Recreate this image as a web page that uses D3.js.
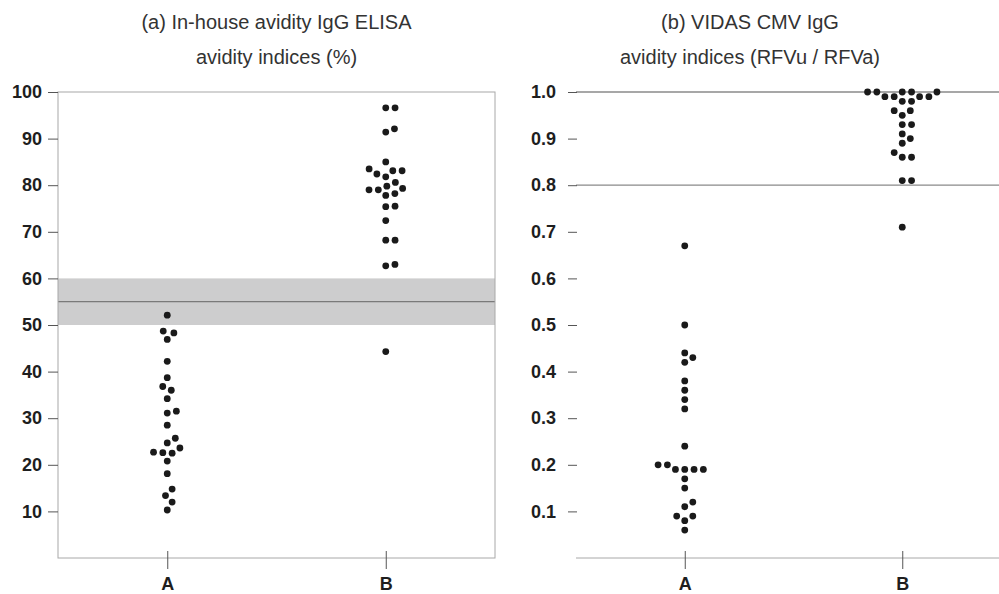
<!DOCTYPE html>
<html>
<head>
<meta charset="utf-8">
<script src="https://cdn.jsdelivr.net/npm/d3@7"></script>
<style>
  body { margin: 0; background: #fff; }
  svg { display: block; font-family: "Liberation Sans", Arial, sans-serif; }
</style>
</head>
<body>
<div id="chart"></div>
<script>
// groups on the x axis
const groups = ["A", "B"];

// (a) in-house avidity IgG ELISA, avidity index %
const elisaA = [52.1, 48.7, 48.3, 46.9, 42.2, 38.7, 36.8, 36.0, 34.2, 31.5, 31.1, 28.5, 25.7, 24.7, 23.6, 22.6, 22.7, 22.5, 20.8, 18.1, 14.8, 13.4, 12.0, 10.3];
const elisaB = [96.6, 96.6, 92.1, 91.4, 85.0, 83.1, 83.5, 83.1, 82.4, 81.8, 80.6, 79.8, 79.0, 79.0, 79.3, 78.2, 77.8, 75.4, 75.5, 72.4, 68.2, 68.2, 63.0, 62.7, 44.3];
const elisaTicks = [10, 20, 30, 40, 50, 60, 70, 80, 90, 100];
const elisaBand = [50, 60];
const elisaCut = 55;

// (b) VIDAS CMV IgG, avidity index RFVu / RFVa
const vidasA = [0.06, 0.08, 0.09, 0.09, 0.11, 0.12, 0.15, 0.17, 0.19, 0.19, 0.19, 0.19, 0.20, 0.20, 0.24, 0.32, 0.34, 0.36, 0.38, 0.42, 0.43, 0.44, 0.50, 0.67];
const vidasB = [0.71, 0.81, 0.81, 0.86, 0.86, 0.87, 0.89, 0.90, 0.91, 0.93, 0.93, 0.95, 0.96, 0.96, 0.98, 0.98, 0.99, 0.99, 0.99, 0.99, 1.00, 1.00, 1.00, 1.00, 1.00];
const vidasTicks = [0.1, 0.2, 0.3, 0.4, 0.5, 0.6, 0.7, 0.8, 0.9, 1.0];
const vidasCut = 0.8;
const vidasTop = 1.0;

const width = 999, height = 594;
const plotTop = 92, plotBottom = 558;
const dotR = 3.4, spacing = 9.3;

const svg = d3.select("#chart").append("svg")
    .attr("width", width)
    .attr("height", height);

// beeswarm (swarm method, ascending priority)
function swarm(values, y) {
    const pts = values.map((v, i) => ({v: v, y: y(v), x: 0, i: i}));
    const order = pts.slice().sort((a, b) => a.v - b.v);
    const placed = [];
    order.forEach(p => {
        const near = placed.filter(q => Math.abs(p.y - q.y) < spacing)
            .sort((a, b) => Math.abs(a.x) - Math.abs(b.x));
        if (near.length) {
            const plus = [], minus = [];
            near.forEach(q => {
                const off = Math.sqrt(spacing * spacing - (p.y - q.y) ** 2);
                plus.push(q.x + off);
                minus.push(q.x - off);
            });
            const cands = [0].concat(plus, minus).filter(c =>
                !near.some(q => (c - q.x) ** 2 + (p.y - q.y) ** 2 < 0.999 * spacing * spacing));
            let best = cands[0];
            cands.forEach(c => { if (Math.abs(c) < Math.abs(best)) best = c; });
            p.x = best;
        }
        placed.push(p);
    });
    return pts;
}

function drawDots(g, values, cx, y) {
    g.append("g").selectAll("circle")
        .data(swarm(values, y))
        .enter()
        .append("circle")
        .attr("cx", d => cx + d.x)
        .attr("cy", d => d.y)
        .attr("r", dotR)
        .attr("fill", "#1a1a1a");
}

function styleAxis(g, size) {
    g.select(".domain").remove();
    g.selectAll(".tick line").attr("stroke", "#555");
    g.selectAll(".tick text")
        .attr("fill", "#1e1e1e")
        .style("font-size", size + "px")
        .style("font-weight", "bold");
}

// ---------- panel (a) ----------
const xa = d3.scalePoint().domain(groups).range([58, 495]).padding(0.5);
const ya = d3.scaleLinear().domain([0, 100]).range([plotBottom, plotTop]);

const pa = svg.append("g");

pa.append("rect")
    .attr("x", 58).attr("width", 495 - 58)
    .attr("y", ya(elisaBand[1]))
    .attr("height", ya(elisaBand[0]) - ya(elisaBand[1]))
    .attr("fill", "#cdcdce");

pa.append("line")
    .attr("x1", 58).attr("x2", 495)
    .attr("y1", ya(elisaCut)).attr("y2", ya(elisaCut))
    .attr("stroke", "#7a7a7a").attr("stroke-width", 1.2);

pa.append("rect")
    .attr("x", 58).attr("y", plotTop)
    .attr("width", 495 - 58).attr("height", plotBottom - plotTop)
    .attr("fill", "none")
    .attr("stroke", "#a8a8a8");

const yAxisA = pa.append("g")
    .attr("transform", "translate(58,0)")
    .call(d3.axisLeft(ya).tickValues(elisaTicks).tickSize(10).tickPadding(6).tickFormat(d3.format("d")));
styleAxis(yAxisA, 18);

const xAxisA = pa.append("g")
    .attr("transform", `translate(0,${plotBottom})`)
    .call(d3.axisBottom(xa).tickSize(11).tickPadding(8));
styleAxis(xAxisA, 18);
xAxisA.selectAll(".tick line").attr("y1", -7);

drawDots(pa, elisaA, xa("A"), ya);
drawDots(pa, elisaB, xa("B"), ya);

pa.append("text")
    .attr("x", 276.5).attr("y", 29)
    .attr("text-anchor", "middle")
    .attr("fill", "#333")
    .style("font-size", "20px")
    .text("(a) In-house avidity IgG ELISA");
pa.append("text")
    .attr("x", 276.5).attr("y", 64)
    .attr("text-anchor", "middle")
    .attr("fill", "#333")
    .style("font-size", "20px")
    .text("avidity indices (%)");

// ---------- panel (b) ----------
const xb = d3.scalePoint().domain(groups).range([576, 1011]).padding(0.5);
const yb = d3.scaleLinear().domain([0, 1]).range([plotBottom, plotTop]);

const pb = svg.append("g");

pb.append("line")
    .attr("x1", 576).attr("x2", 1011)
    .attr("y1", yb(vidasTop)).attr("y2", yb(vidasTop))
    .attr("stroke", "#8a8a8a").attr("stroke-width", 1.3);

pb.append("line")
    .attr("x1", 576).attr("x2", 1011)
    .attr("y1", yb(vidasCut)).attr("y2", yb(vidasCut))
    .attr("stroke", "#8a8a8a").attr("stroke-width", 1.3);

pb.append("line")
    .attr("x1", 576).attr("x2", 1011)
    .attr("y1", plotBottom).attr("y2", plotBottom)
    .attr("stroke", "#a8a8a8");

const yAxisB = pb.append("g")
    .attr("transform", "translate(577,0)")
    .call(d3.axisLeft(yb).tickValues(vidasTicks).tickSize(9).tickPadding(12).tickFormat(d3.format(".1f")));
styleAxis(yAxisB, 18);

const xAxisB = pb.append("g")
    .attr("transform", `translate(0,${plotBottom})`)
    .call(d3.axisBottom(xb).tickSize(11).tickPadding(8));
styleAxis(xAxisB, 18);
xAxisB.selectAll(".tick line").attr("y1", -7);

drawDots(pb, vidasA, xb("A"), yb);
drawDots(pb, vidasB, xb("B"), yb);

pb.append("text")
    .attr("x", 750).attr("y", 29)
    .attr("text-anchor", "middle")
    .attr("fill", "#333")
    .style("font-size", "20px")
    .text("(b) VIDAS CMV IgG");
pb.append("text")
    .attr("x", 750).attr("y", 64)
    .attr("text-anchor", "middle")
    .attr("fill", "#333")
    .style("font-size", "20px")
    .text("avidity indices (RFVu / RFVa)");
</script>
</body>
</html>
